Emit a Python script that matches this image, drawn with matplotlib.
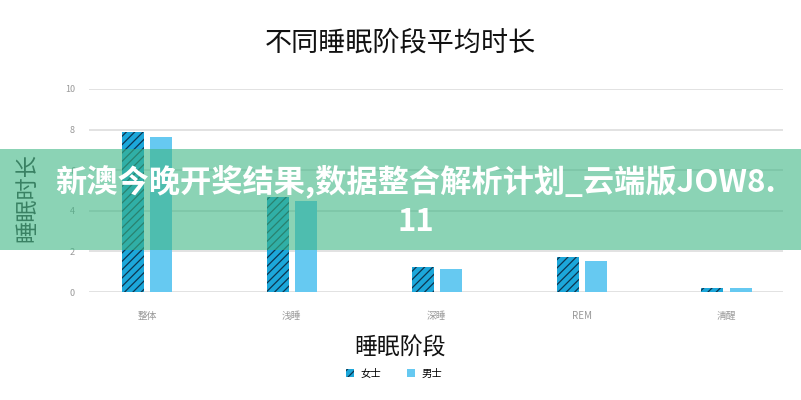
import matplotlib
matplotlib.use('Agg')
import matplotlib.pyplot as plt
import matplotlib.patches as mpatches
import numpy as np

plt.rcParams['font.family'] = ['Noto Sans CJK SC', 'DejaVu Sans']
plt.rcParams['hatch.color'] = '#0d3550'
plt.rcParams['hatch.linewidth'] = 0.9

# data
stages = ['整体', '浅睡', '深睡', 'REM', '清醒']
female = [7.9, 4.7, 1.23, 1.73, 0.2]
male = [7.65, 4.5, 1.13, 1.52, 0.2]
yticks = [0, 2, 4, 6, 8, 10]

title = '不同睡眠阶段平均时长'
xlabel = '睡眠阶段'
ylabel = '睡眠时长'
banner = '新澳今晚开奖结果,数据整合解析计划_云端版JOW8.\n11'

fig = plt.figure(figsize=(8.01, 4.0), dpi=100)
ax = fig.add_axes([89 / 801, 108 / 400, 694 / 801, 203 / 400])

x = np.arange(len(stages))
w = 0.152
ax.bar(x - 0.097, female, w, color='#1ca7da', hatch='////', edgecolor='#0d3550', linewidth=0, label='女士')
ax.bar(x + 0.097, male, w, color='#66c9f1', linewidth=0, label='男士')

ax.set_xlim(-0.4, 4.39)
ax.set_ylim(0, 10)
ax.set_yticks(yticks)
ax.set_xticks(x)
ax.set_xticklabels(stages)
ax.tick_params(axis='both', length=0, colors='#999999', labelsize=6.5)
ax.tick_params(axis='x', pad=14, labelsize=7)
ax.tick_params(axis='y', pad=10)
for s in ax.spines.values():
    s.set_visible(False)
ax.grid(axis='y', color='#dddddd', linewidth=1.2)
ax.set_axisbelow(True)

fig.text(400 / 801, 1 - 43 / 400, title, ha='center', va='center', fontsize=19.5, color='#111111')
fig.text(400 / 801, 1 - 348 / 400, xlabel, ha='center', va='center', fontsize=16.5, color='#111111')
fig.text(27 / 801, 1 - 198 / 400, ylabel, ha='center', va='center', rotation=90, fontsize=16, color='#333333')

# legend
h1 = mpatches.Patch(facecolor='#1ca7da', hatch='////', edgecolor='#0d3550', linewidth=0)
h2 = mpatches.Patch(facecolor='#66c9f1', linewidth=0)
fig.legend([h1, h2], ['女士', '男士'], loc='center', bbox_to_anchor=(394 / 801, 1 - 374 / 400),
           ncol=2, frameon=False, fontsize=7.5, handlelength=0.8, handleheight=0.8,
           columnspacing=2.5, handletextpad=0.6)

# banner overlay
fig.patches.append(mpatches.Rectangle((0, 1 - 250 / 400), 1, 101 / 400, transform=fig.transFigure,
                                      facecolor='#3eb684', alpha=0.6, edgecolor='none', zorder=5))
fig.text(416 / 801, 1 - 201 / 400, banner, ha='center', va='center', fontsize=22.5, fontweight='heavy',
         color='white', linespacing=1.3, zorder=6)

fig.savefig('out.png', dpi=100)
